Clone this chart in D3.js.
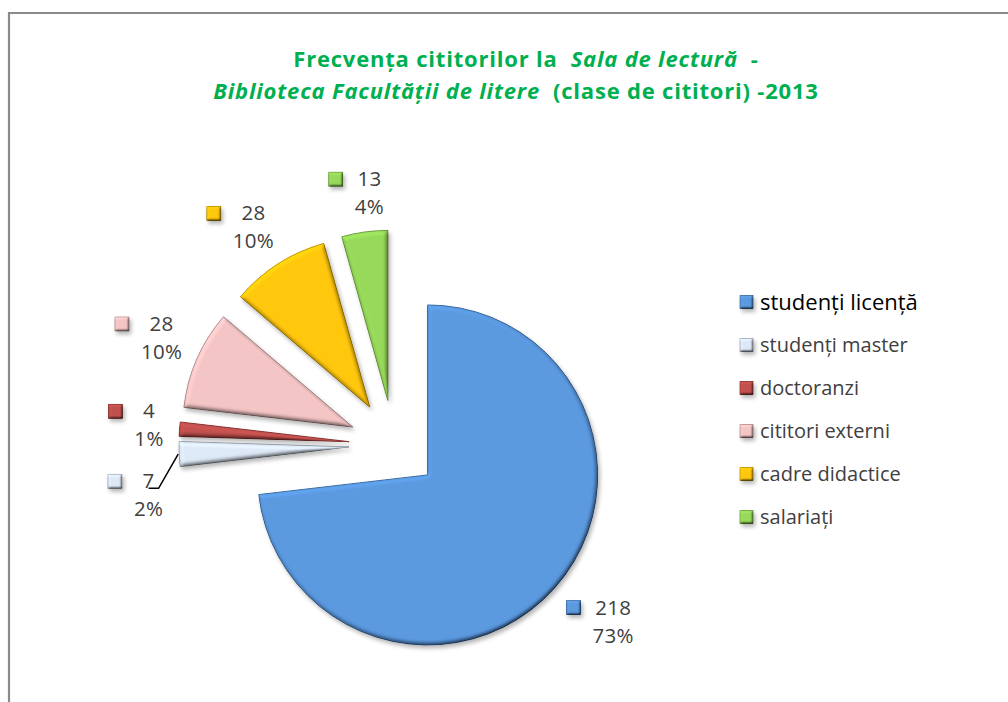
<!DOCTYPE html>
<html>
<head>
<meta charset="utf-8">
<script src="https://cdn.jsdelivr.net/npm/d3@7"></script>
<style>
    body { margin: 0; background: #fff; }
    svg { display: block; font-family: "Open Sans", "Noto Sans", sans-serif; }
</style>
</head>
<body>
<svg id="chart" width="1008" height="702"></svg>
<script>
var categories = ['studenți licență', 'studenți master', 'doctoranzi', 'cititori externi', 'cadre didactice', 'salariați'];
var values = [218, 7, 4, 28, 28, 13];
var percentLabels = ['73%', '2%', '1%', '10%', '10%', '4%'];
var colors = ['#5a98de', '#dce7f5', '#c0504d', '#f2c3c3', '#ffc60a', '#96d759'];
var titleLine1 = [['Frecvența cititorilor la  ', false], ['Sala de lectură', true], ['  -', false]];
var titleLine2 = [['Biblioteca Facultății de litere', true], ['  (clase de cititori) -2013', false]];

(function () {
    var svg = d3.select('#chart'),
        width = +svg.attr('width'),
        height = +svg.attr('height');

    var cx = 394, cy = 445,
        radius = 170,
        explode = 45,
        labelGap = 16;

    var defs = svg.append('defs');

    // bevel + shadow, roughly what excel does with its "bevel" preset
    function bevelFilter(id, blur, scale) {
        var f = defs.append('filter').attr('id', id)
            .attr('filterUnits', 'userSpaceOnUse')
            .attr('x', -700).attr('y', -700).attr('width', 2400).attr('height', 2400);
        f.append('feGaussianBlur').attr('in', 'SourceAlpha').attr('stdDeviation', blur).attr('result', 'blur');
        f.append('feDiffuseLighting').attr('in', 'blur').attr('surfaceScale', scale)
            .attr('diffuseConstant', 1).attr('lighting-color', '#fff').attr('result', 'light')
            .append('feDistantLight').attr('azimuth', 235).attr('elevation', 55);
        f.append('feComposite').attr('in', 'SourceGraphic').attr('in2', 'light')
            .attr('operator', 'arithmetic').attr('k1', 1.05).attr('k2', 0.16).attr('k3', 0).attr('k4', 0)
            .attr('result', 'lit');
        f.append('feGaussianBlur').attr('in', 'SourceAlpha').attr('stdDeviation', 2).attr('result', 'sb');
        f.append('feOffset').attr('in', 'sb').attr('dx', 1.5).attr('dy', 2.5).attr('result', 'so');
        f.append('feComponentTransfer').attr('in', 'so').attr('result', 'shadow')
            .append('feFuncA').attr('type', 'linear').attr('slope', 0.3);
        var m = f.append('feMerge');
        m.append('feMergeNode').attr('in', 'shadow');
        m.append('feMergeNode').attr('in', 'lit');
    }
    bevelFilter('bevel', 2.2, 4);
    bevelFilter('bevelSmall', 1.2, 3);

    // frame (only top and left visible in the original)
    svg.append('path')
        .attr('d', 'M9,' + height + 'V13H' + width)
        .attr('fill', 'none')
        .attr('stroke', '#8a8a8a')
        .attr('stroke-width', 2.2);

    // title
    var title = svg.append('g')
        .attr('fill', '#00b050')
        .attr('font-weight', 'bold')
        .attr('font-size', 22)
        .attr('letter-spacing', 0.8);

    function titleLine(parts, x, y) {
        var t = title.append('text')
            .attr('xml:space', 'preserve')
            .attr('x', x).attr('y', y)
            .attr('text-anchor', 'middle');
        parts.forEach(function (p) {
            t.append('tspan').attr('font-style', p[1] ? 'italic' : 'normal').text(p[0]);
        });
    }
    titleLine(titleLine1, 526, 67);
    titleLine(titleLine2, 516, 99);

    var pie = d3.pie().sort(null).value(function (d) { return d; });
    var arc = d3.arc().innerRadius(0).outerRadius(radius);
    var arcs = pie(values);

    function dirOf(d) {
        var m = (d.startAngle + d.endAngle) / 2;
        return [Math.sin(m), -Math.cos(m)];
    }

    var pieG = svg.append('g').attr('transform', 'translate(' + cx + ',' + cy + ')');

    pieG.selectAll('path.slice')
        .data(arcs)
        .enter().append('path')
        .attr('class', 'slice')
        .attr('transform', function (d) {
            var v = dirOf(d);
            return 'translate(' + (v[0] * explode) + ',' + (v[1] * explode) + ')';
        })
        .attr('d', arc)
        .attr('fill', function (d, i) { return colors[i]; })
        .attr('stroke', function (d, i) { return d3.color(colors[i]).darker(0.8); })
        .attr('stroke-width', 0.8)
        .attr('filter', 'url(#bevel)');

    // data labels: marker + value on first line, percent below
    var lineGap = 28, markerSize = 14, markerGap = 12;
    function side(v) { return Math.max(-1, Math.min(1, v * 1.6)); }
    var labels = arcs.map(function (d, i) {
        var g = pieG.append('g').attr('fill', '#404040').attr('font-size', 20.5).attr('letter-spacing', 0.3);
        var t1 = g.append('text').attr('text-anchor', 'middle').text(values[i]);
        var t2 = g.append('text').attr('text-anchor', 'middle').text(percentLabels[i]);
        var tw = Math.max(t1.node().getComputedTextLength(), t2.node().getComputedTextLength());
        var bw = markerSize + markerGap + tw, bh = lineGap + 18;
        var v = dirOf(d), r = explode + radius + labelGap;
        return {
            i: i, g: g, t1: t1, t2: t2, tw: tw, bw: bw, bh: bh, dir: v,
            x: v[0] * r + side(v[0]) * bw / 2,
            y: v[1] * r + side(v[1]) * bh / 2,
            moved: false
        };
    });

    // push overlapping labels downward
    function overlaps(a, b) {
        return Math.abs(a.x - b.x) < (a.bw + b.bw) / 2 && Math.abs(a.y - b.y) < (a.bh + b.bh) / 2 + 20;
    }
    var byY = labels.slice().sort(function (a, b) { return a.y - b.y; });
    for (var k = 1; k < byY.length; k++) {
        for (var j = 0; j < k; j++) {
            if (overlaps(byY[j], byY[k])) {
                byY[k].y = byY[j].y + (byY[j].bh + byY[k].bh) / 2 + 24;
                byY[k].moved = true;
            }
        }
    }

    labels.forEach(function (l) {
        var textCx = l.x - l.bw / 2 + markerSize + markerGap + l.tw / 2;
        var y1 = l.y - lineGap / 2, y2 = l.y + lineGap / 2;
        l.t1.attr('x', textCx).attr('y', y1 + 7);
        l.t2.attr('x', textCx).attr('y', y2 + 7);
        l.g.append('rect')
            .attr('x', l.x - l.bw / 2).attr('y', y1 - markerSize / 2)
            .attr('width', markerSize).attr('height', markerSize)
            .attr('fill', colors[l.i])
            .attr('stroke', d3.color(colors[l.i]).darker(0.6)).attr('stroke-width', 0.6)
            .attr('filter', 'url(#bevelSmall)');
        if (l.moved) {
            var e = explode + radius + 1;
            pieG.append('polyline')
                .attr('points', [
                    [l.dir[0] * e, l.dir[1] * e],
                    [textCx + 10, y1 + 7],
                    [textCx, y1 + 7]
                ].join(' '))
                .attr('fill', 'none')
                .attr('stroke', '#000')
                .attr('stroke-width', 1.5);
        }
    });

    // legend
    var legendY = d3.scaleLinear().domain([0, categories.length - 1]).range([302, 517]);
    var legend = svg.append('g').attr('transform', 'translate(740,0)');
    var item = legend.selectAll('g.item')
        .data(categories)
        .enter().append('g')
        .attr('class', 'item')
        .attr('transform', function (d, i) { return 'translate(0,' + legendY(i) + ')'; });

    item.append('rect')
        .attr('x', 0).attr('y', -6.5)
        .attr('width', 13).attr('height', 13)
        .attr('fill', function (d, i) { return colors[i]; })
        .attr('stroke', function (d, i) { return d3.color(colors[i]).darker(0.6); })
        .attr('stroke-width', 0.6)
        .attr('filter', 'url(#bevelSmall)');

    item.append('text')
        .attr('x', 20)
        .attr('y', function (d, i) { return i === 0 ? 8 : 7; })
        .attr('font-size', function (d, i) { return i === 0 ? 22 : 20; })
        .attr('fill', function (d, i) { return i === 0 ? '#000' : '#404040'; })
        .text(function (d) { return d; });
})();
</script>
</body>
</html>
